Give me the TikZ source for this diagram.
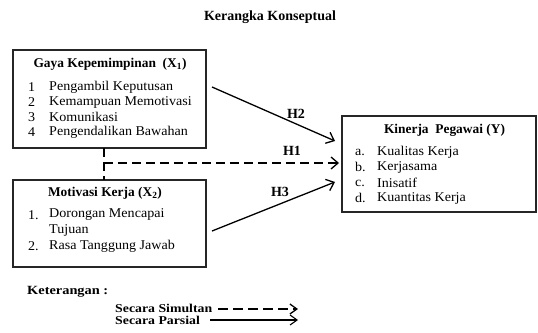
\documentclass[tikz,border=0pt]{standalone}
\usepackage{fontspec}
\setmainfont{Liberation Serif}
\newfontfamily\bodyfont[FakeStretch=1.05]{Liberation Serif}
\newfontfamily\ketfont[FakeStretch=1.15]{Liberation Serif}
\usetikzlibrary{arrows.meta}
\begin{document}
\begin{tikzpicture}[x=1pt,y=-1pt,
  box/.style={draw=black!85, line width=1.2pt, inner sep=0pt},
  txt/.style={anchor=west, inner sep=0pt, font=\bodyfont\fontsize{13.4}{15}\selectfont},
  ttl/.style={inner sep=0pt, font=\fontsize{13.4}{15}\selectfont\bfseries},
  lbl/.style={inner sep=0pt, font=\fontsize{14}{16}\selectfont\bfseries},
  leg/.style={inner sep=0pt, anchor=west, font=\ketfont\fontsize{12}{13}\selectfont\bfseries},
  conn/.style={line width=1.3pt, -{Straight Barb[length=7pt,width=12pt,line width=1.3pt]}},
  dconn/.style={conn, dash pattern=on 9pt off 5pt},
]
\useasboundingbox (0,0) rectangle (538,332);

\node[lbl] (title) at (270,17) {Kerangka Konseptual};

% boxes
\node[box, minimum width=193pt, minimum height=98pt] (x1) at (109.5,99) {};
\node[box, minimum width=193pt, minimum height=87pt] (x2) at (109.5,223.5) {};
\node[box, minimum width=194pt, minimum height=96pt] (y) at (439,164) {};

% X1 content
\node[ttl] (x1t) at (110,64) {Gaya Kepemimpinan\ \ (X\textsubscript{1})};
\node[txt] (x1n1) at (28,87) {1};
\node[txt] (x1n2) at (28,102) {2};
\node[txt] (x1n3) at (28,117) {3};
\node[txt] (x1n4) at (28,132) {4};
\node[txt] (x1i1) at (49,87) {Pengambil Keputusan};
\node[txt] (x1i2) at (49,102) {Kemampuan Memotivasi};
\node[txt] (x1i3) at (49,117) {Komunikasi};
\node[txt] (x1i4) at (49,132) {Pengendalikan Bawahan};

% X2 content
\node[ttl] (x2t) at (105,193) {Motivasi Kerja (X\textsubscript{2})};
\node[txt] (x2n1) at (28,215) {1.};
\node[txt] (x2n2) at (28,246) {2.};
\node[txt] (x2i1) at (49,215) {Dorongan Mencapai};
\node[txt] (x2i1b) at (49,230) {Tujuan};
\node[txt] (x2i2) at (49,246) {Rasa Tanggung Jawab};

% Y content
\node[ttl] (yt) at (444.5,130) {Kinerja\ \ Pegawai (Y)};
\node[txt] (yn1) at (355,152) {a.};
\node[txt] (yn2) at (355,167) {b.};
\node[txt] (yn3) at (355,183) {c.};
\node[txt] (yn4) at (355,198) {d.};
\node[txt] (yi1) at (377,152) {Kualitas Kerja};
\node[txt] (yi2) at (377,167) {Kerjasama};
\node[txt] (yi3) at (377,183) {Inisatif};
\node[txt] (yi4) at (377,198) {Kuantitas Kerja};

% connector points
\coordinate (h2s) at (212,87);
\coordinate (h2e) at (335,141);
\coordinate (h3s) at (212,231);
\coordinate (h3e) at (335,182);
\coordinate (h1s) at (104,163);
\coordinate (h1e) at (339,163);
\coordinate (vt) at (104,148);
\coordinate (vb) at (104,180);

\draw[conn] (h2s) -- (h2e);
\draw[conn] (h3s) -- (h3e);
\draw[dconn] (h1s) -- (h1e);
\draw[line width=1.3pt, dash pattern=on 9pt off 5pt] (vt) -- (vb);

\node[lbl] (lh2) at (296,114) {H2};
\node[lbl] (lh1) at (292,151) {H1};
\node[lbl] (lh3) at (280,192) {H3};

% legend
\node[inner sep=0pt, anchor=west, font=\ketfont\fontsize{12.5}{14}\selectfont\bfseries] (ket) at (27,292) {Keterangan :};
\node[leg] (sim) at (115,308.5) {Secara Simultan};
\node[leg] (par) at (115,320) {Secara Parsial};
\coordinate (ls1) at (218,309);
\coordinate (le1) at (298,309);
\coordinate (ls2) at (210,320);
\coordinate (le2) at (298,320);
\draw[line width=1.3pt, dash pattern=on 10pt off 5pt, -{Straight Barb[length=7pt,width=10pt,line width=1.3pt]}] (ls1) -- (le1);
\draw[line width=1.1pt, -{Straight Barb[length=7pt,width=10pt,line width=1.1pt]}] (ls2) -- (le2);
\end{tikzpicture}
\end{document}
